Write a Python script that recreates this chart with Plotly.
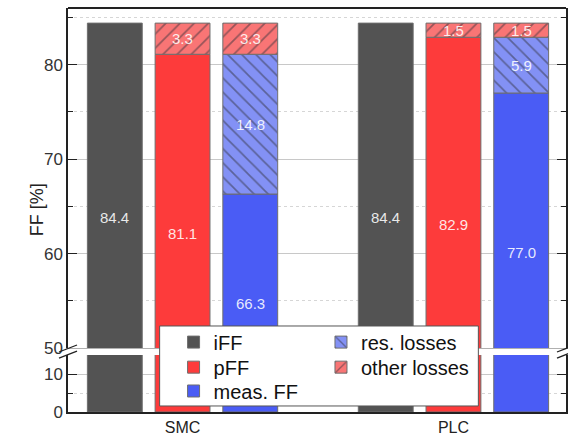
import plotly.graph_objects as go

# ---------------- data ----------------
groups = ["SMC", "PLC"]
iFF = [84.4, 84.4]
pFF = [81.1, 82.9]
measFF = [66.3, 77.0]
res_losses = [14.8, 5.9]
other_losses = [3.3, 1.5]

# ---------------- style ----------------
FONT = "Arial, Liberation Sans, sans-serif"
C_IFF = "#535353"
C_PFF = "#fd3b3b"
C_MEAS = "#4a5cf5"
C_RES = "#8391f5"
C_OTH = "#f97575"
EDGE = "#6e6e6e"
HATCH = "#33333d"

LOW_RANGE = [0, 15]
UP_RANGE = [50, 86]
LOW_DOM = [0, 0.141]
UP_DOM = [0.1584, 1]
BARGAP = 0.25
GROUPGAP = 0.19

fig = go.Figure()

meas_plus_res = [m + r for m, r in zip(measFF, res_losses)]

def add_set(xa, ya, show):
    line = dict(color=EDGE, width=1)
    fig.add_trace(go.Bar(x=groups, y=iFF, name="iFF", offsetgroup="1",
                         marker=dict(color=C_IFF, line=line), xaxis=xa, yaxis=ya,
                         legend="legend", showlegend=show))
    fig.add_trace(go.Bar(x=groups, y=pFF, name="pFF", offsetgroup="2",
                         marker=dict(color=C_PFF, line=line), xaxis=xa, yaxis=ya,
                         legend="legend2", showlegend=show))
    fig.add_trace(go.Bar(x=groups, y=other_losses, base=pFF, name="other losses",
                         offsetgroup="2",
                         marker=dict(color=C_OTH, line=line,
                                     pattern=dict(shape="/", fgcolor=HATCH, bgcolor=C_OTH,
                                                  size=10, solidity=0.17)),
                         xaxis=xa, yaxis=ya, legend="legend5", showlegend=show))
    fig.add_trace(go.Bar(x=groups, y=measFF, name="meas. FF", offsetgroup="3",
                         marker=dict(color=C_MEAS, line=line), xaxis=xa, yaxis=ya,
                         legend="legend3", showlegend=show))
    fig.add_trace(go.Bar(x=groups, y=res_losses, base=measFF, name="res. losses",
                         offsetgroup="3",
                         marker=dict(color=C_RES, line=line,
                                     pattern=dict(shape="\\", fgcolor=HATCH, bgcolor=C_RES,
                                                  size=10, solidity=0.17)),
                         xaxis=xa, yaxis=ya, legend="legend4", showlegend=show))
    fig.add_trace(go.Bar(x=groups, y=other_losses, base=meas_plus_res, name="other losses",
                         offsetgroup="3",
                         marker=dict(color=C_OTH, line=line,
                                     pattern=dict(shape="/", fgcolor=HATCH, bgcolor=C_OTH,
                                                  size=10, solidity=0.17)),
                         xaxis=xa, yaxis=ya, showlegend=False))

add_set("x", "y", False)
add_set("x2", "y2", True)

# ---------------- value labels ----------------
slot = (1 - BARGAP) / 3
units_per_paper = (UP_RANGE[1] - UP_RANGE[0]) / (UP_DOM[1] - UP_DOM[0])
v_bottom = UP_RANGE[0] - UP_DOM[0] * units_per_paper   # value of the plot bottom on upper scale

lab_font = dict(family=FONT, size=15, color="rgba(255,255,255,0.88)")
annotations = []
for gi in range(len(groups)):
    for k, v in enumerate([iFF[gi], pFF[gi], measFF[gi]]):
        annotations.append(dict(x=gi + (k - 1) * slot, y=(v + v_bottom) / 2,
                                xref="x2", yref="y2", text=f"{v:.1f}",
                                showarrow=False, font=lab_font))
    for k, base in [(1, pFF[gi]), (2, meas_plus_res[gi])]:
        annotations.append(dict(x=gi + (k - 1) * slot, y=base + other_losses[gi] / 2,
                                xref="x2", yref="y2", text=f"{other_losses[gi]:.1f}",
                                showarrow=False, font=lab_font))
    annotations.append(dict(x=gi + slot, y=measFF[gi] + res_losses[gi] / 2,
                            xref="x2", yref="y2", text=f"{res_losses[gi]:.1f}",
                            showarrow=False, font=lab_font))

annotations.append(dict(x=-0.086, y=0.5, xref="paper", yref="paper", text="FF [%]",
                        textangle=-90, showarrow=False,
                        font=dict(family=FONT, size=18, color="#222")))

# ---------------- shapes ----------------
shapes = []
shapes.append(dict(type="line", xref="paper", yref="paper", x0=0, x1=1, y0=1, y1=1,
                   line=dict(color="#222", width=2), layer="above"))
shapes.append(dict(type="rect", xref="paper", yref="paper", x0=0.184, x1=0.824,
                   y0=0.0149, y1=0.2129, fillcolor="white",
                   line=dict(color="#555", width=1), layer="above"))
for xa in (0, 1):
    for ya, (dy0, dy1) in [(UP_DOM[0], (-4, 3)), (LOW_DOM[1], (-3, 4))]:
        shapes.append(dict(type="line", xref="paper", yref="paper",
                           xsizemode="pixel", ysizemode="pixel",
                           xanchor=xa, yanchor=ya, x0=-9, x1=9, y0=dy0, y1=dy1,
                           line=dict(color="#222", width=1.3), layer="above"))

tickfont = dict(family=FONT, size=17, color="#333")
yax_common = dict(ticks="inside", ticklen=9, tickwidth=1, tickcolor="#222",
                  showline=True, linecolor="#222", linewidth=1.5, mirror="ticks",
                  showgrid=True, gridcolor="#c8c8c8", gridwidth=1, zeroline=False,
                  tickfont=tickfont, dtick=10,
                  minor=dict(dtick=5, ticks="inside", ticklen=5, tickcolor="#222",
                             showgrid=True, griddash="dot", gridcolor="#d6d6d6"))

# one legend per entry, arranged as a 2-column grid inside the box
leg_font = dict(family=FONT, size=20, color="#111")
def leg(x, y):
    return dict(x=x, y=y, xanchor="left", yanchor="middle", bgcolor="rgba(0,0,0,0)",
                borderwidth=0, font=leg_font, tracegroupgap=0)

COL1, COL2 = 0.212, 0.508
ROW1, ROW2, ROW3 = 0.173, 0.111, 0.052

fig.update_layout(
    width=568, height=440,
    margin=dict(l=68, r=0, t=8, b=28),
    paper_bgcolor="white", plot_bgcolor="white",
    barmode="group", bargap=BARGAP, bargroupgap=GROUPGAP,
    font=dict(family=FONT, color="#222"),
    xaxis=dict(type="category", range=[-0.4228, 1.4154], domain=[0, 1], anchor="y",
               showline=True, linecolor="#222", linewidth=1.5, ticks="",
               tickfont=dict(family=FONT, size=16, color="#222"), showgrid=False),
    xaxis2=dict(type="category", matches="x", anchor="y2", domain=[0, 1],
                showticklabels=False, showline=True, linecolor="#b0b0b0", linewidth=1,
                ticks="", showgrid=False),
    yaxis=dict(domain=LOW_DOM, range=LOW_RANGE, tick0=0, anchor="x", **yax_common),
    yaxis2=dict(domain=UP_DOM, range=UP_RANGE, tick0=50, anchor="x2", **yax_common),
    legend=leg(COL1, ROW1),
    legend2=leg(COL1, ROW2),
    legend3=leg(COL1, ROW3),
    legend4=leg(COL2, ROW1),
    legend5=leg(COL2, ROW2),
    annotations=annotations,
    shapes=shapes,
)

fig.write_html(
    "out.html",
    config={"displayModeBar": False},
    post_script="document.body.style.margin='0px';document.body.style.overflow='hidden';",
)
